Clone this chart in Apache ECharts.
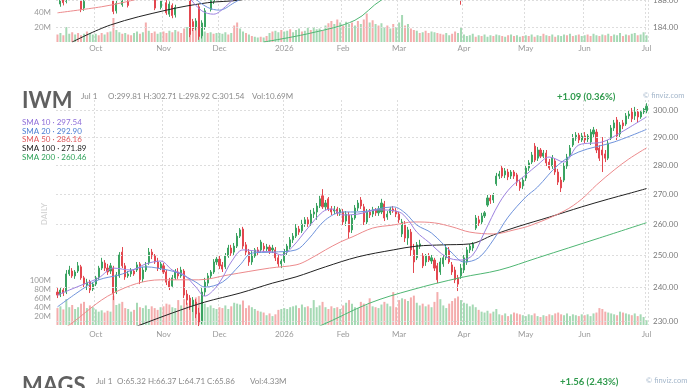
<!DOCTYPE html>
<html><head><meta charset="utf-8">
<script src="https://cdn.jsdelivr.net/npm/echarts@6/dist/echarts.min.js"></script>
<style>html,body{margin:0;padding:0;background:#fff}#c{width:690px;height:388px}</style>
</head><body><div id="c"></div>
<script>
// ---------- categories: trading days 2025-09-12 .. 2026-07-01 ----------
const holidays = ['2025-11-27','2025-12-25','2026-01-01','2026-01-19','2026-02-16','2026-04-03','2026-05-25','2026-06-19'];
const dates = [];
(function(){ let t = Date.UTC(2025,8,12); const end = Date.UTC(2026,6,1);
  while (t <= end) { const d = new Date(t); const wd = d.getUTCDay(); const s = d.toISOString().slice(0,10);
    if (wd !== 0 && wd !== 6 && holidays.indexOf(s) < 0) dates.push(s); t += 86400000; } })();
const monthNames = ['Jan','Feb','Mar','Apr','May','Jun','Jul','Aug','Sep','Oct','Nov','Dec'];

// ---------- IWM daily OHLC ----------
const opens = [238.7,237.8,239.3,238.7,244.2,245.1,243.6,245.1,246.4,243.0,240.8,241.7,239.6,
241.1,243.0,246.0,247.6,246.0,245.1,246.0,238.7,243.6,251.0,246.7,243.6,244.2,245.1,245.4,247.3,242.7,245.4,247.6,251.0,249.8,247.9,246.0,
246.7,244.8,242.0,240.5,243.0,244.8,243.6,245.1,238.1,236.9,234.9,235.7,232.5,230.2,238.7,241.4,243.6,244.8,247.9,
248.8,247.0,246.4,249.8,252.3,251.0,252.9,256.1,258.4,253.3,251.0,247.9,249.8,251.7,251.7,252.9,252.0,252.6,251.7,251.7,249.2,247.3,
248.2,251.0,252.6,254.9,256.1,258.4,257.8,260.0,261.4,260.4,263.3,264.0,266.0,269.4,265.7,268.4,265.0,264.3,265.0,263.7,
264.0,261.0,263.0,258.1,262.0,265.3,268.0,265.7,260.7,264.0,263.3,264.7,263.7,264.0,266.7,262.3,263.7,265.0,264.3,
263.3,256.8,260.0,255.5,257.4,251.7,249.2,252.9,249.8,247.9,249.8,248.2,248.5,246.7,244.8,247.3,249.2,251.7,247.0,245.4,243.0,243.6,
245.4,247.9,251.7,252.3,258.7,261.4,260.7,262.7,266.3,268.7,268.0,273.5,276.2,279.0,276.6,277.6,276.2,277.6,276.6,274.1,272.8,
275.5,279.0,281.1,286.8,282.5,285.4,283.2,284.3,281.1,279.7,281.5,277.6,274.8,274.8,279.7,283.6,287.2,289.7,290.8,289.0,
290.5,289.4,288.3,291.2,291.9,286.1,285.4,284.0,282.5,289.7,293.4,296.4,291.2,295.3,294.9,297.9,299.4,297.9,299.4,297.5,299.4,
299.81];
const closes = [237.8,239.3,238.4,244.2,245.4,243.6,244.8,246.7,243.0,241.1,241.7,239.3,241.1,
243.0,246.0,247.9,246.0,244.8,246.7,238.1,243.9,250.1,246.7,243.3,244.2,245.4,244.2,247.0,242.4,245.4,246.7,251.0,249.8,247.9,246.0,247.3,
244.8,241.7,240.2,243.0,244.8,243.6,245.4,237.8,236.3,234.6,236.3,232.2,229.9,238.7,241.7,243.6,244.8,247.9,248.8,
246.7,245.7,249.8,252.3,250.7,252.9,256.1,258.1,252.9,251.0,247.9,250.1,251.7,251.0,254.2,252.0,252.6,251.3,252.3,249.2,247.3,248.2,
251.0,252.9,254.9,256.1,258.7,257.4,260.0,261.4,260.0,263.3,264.0,266.0,268.4,265.7,267.0,265.0,264.0,265.0,263.7,264.7,
260.7,263.3,257.4,262.0,265.3,267.0,266.0,260.7,264.0,263.0,264.7,263.7,265.0,267.0,262.0,263.3,265.0,264.3,263.3,
261.4,260.7,255.5,258.1,251.7,247.9,253.3,253.6,246.7,249.8,248.5,249.2,246.0,242.4,247.9,249.2,252.3,247.9,244.8,242.4,241.1,246.0,
249.2,251.7,252.9,253.6,262.0,260.4,262.7,263.7,268.7,267.7,269.7,276.2,276.9,276.2,278.0,275.9,277.6,276.2,274.1,272.1,274.8,
279.0,280.8,283.6,281.8,285.4,283.2,284.3,280.8,279.0,282.5,277.6,274.1,272.1,279.7,282.9,286.1,289.7,290.8,289.0,290.5,
289.0,290.5,291.9,292.7,285.4,282.5,283.6,282.5,287.9,293.4,295.3,290.5,294.5,294.2,297.9,298.6,296.8,299.4,297.5,299.4,300.45,
301.54];
const lows = [236.9,237.2,237.5,238.1,243.6,243.0,242.7,244.5,242.4,240.2,239.3,238.4,239.0,
240.5,242.4,245.4,245.1,243.9,244.2,236.3,238.1,243.0,246.0,242.4,243.0,243.3,243.6,244.8,241.1,241.7,244.8,247.0,248.8,247.3,245.1,245.4,
244.2,240.8,239.3,239.9,242.4,242.7,243.0,236.9,234.9,233.4,232.8,231.0,228.7,229.3,237.5,240.5,242.7,244.2,247.0,
245.7,244.8,245.7,249.2,249.8,250.1,252.3,255.5,252.0,249.8,246.7,247.0,249.2,250.1,251.0,251.0,251.3,250.4,250.7,248.2,246.4,246.0,
247.6,250.1,252.0,253.9,255.5,256.5,257.1,259.1,259.1,259.4,262.0,261.4,265.3,265.0,264.7,264.3,263.0,263.3,262.7,262.7,
259.7,259.4,255.5,257.1,261.4,264.3,265.0,259.7,260.0,262.0,262.3,262.7,262.7,263.3,261.0,261.4,263.0,263.7,262.3,
260.4,255.8,254.2,253.3,249.8,244.5,248.5,252.0,246.0,246.7,247.9,247.3,245.1,241.4,243.9,246.4,248.5,247.3,243.9,241.4,239.0,242.7,
244.5,247.0,250.7,251.3,258.1,259.4,259.7,262.0,265.7,266.7,267.0,272.8,275.2,275.5,275.5,274.8,275.2,275.2,272.8,271.1,271.7,
274.5,278.0,280.4,281.1,281.5,282.5,282.5,279.7,278.3,278.7,276.6,273.1,270.7,274.1,278.7,282.9,286.5,288.7,287.9,288.3,
287.9,288.3,287.2,290.1,284.3,281.5,277.6,281.1,281.8,289.0,292.3,289.0,290.1,293.0,294.2,296.8,295.6,296.4,295.6,296.8,298.6,
298.92];
const highs = [239.9,240.2,239.9,245.4,246.7,246.0,245.4,247.9,247.0,243.6,242.7,242.4,241.7,
243.6,246.7,249.2,248.5,247.3,247.6,246.7,244.8,251.0,252.6,247.6,245.1,246.0,245.7,247.9,247.9,246.4,247.9,252.3,252.0,250.4,249.2,247.9,
247.6,245.4,243.0,243.9,245.7,246.0,246.4,245.7,239.3,237.8,237.2,236.6,234.0,239.9,243.0,244.5,245.4,248.8,249.5,
249.8,247.9,250.7,253.3,253.3,253.9,257.1,258.7,259.1,254.2,252.0,251.3,252.3,252.6,254.9,253.9,253.6,253.3,253.3,252.6,250.1,248.8,
252.0,253.6,255.8,257.1,260.0,259.4,261.4,262.3,262.3,264.7,265.3,267.0,269.4,271.7,268.0,269.0,266.0,266.0,265.7,265.3,
265.0,264.3,264.0,263.0,266.3,268.0,269.0,266.7,265.0,265.0,265.7,265.3,266.0,268.4,267.7,264.3,265.7,266.0,265.3,
264.0,261.7,261.0,259.1,258.4,253.6,254.2,254.9,250.7,250.4,250.7,250.1,249.2,247.6,249.2,250.1,253.3,252.6,247.9,246.4,243.9,247.3,
250.1,252.6,253.6,254.2,263.0,262.7,263.7,264.3,269.7,269.7,270.4,277.3,278.0,279.7,279.0,278.7,278.3,278.3,277.3,274.8,275.9,
280.1,281.8,284.7,287.9,286.5,286.1,285.4,285.4,282.2,283.6,282.5,278.7,275.9,280.8,284.0,287.2,291.2,291.9,291.6,291.6,
291.9,291.2,293.0,293.8,293.0,287.2,290.1,285.4,289.0,294.5,296.4,297.5,295.6,296.4,299.0,299.8,300.9,301.3,300.5,300.1,300.9,
302.71];
// volume, millions
const volumes = [38,42,35,58,40,45,36,40,48,52,38,44,40,
35,30,33,28,32,30,66,45,48,52,38,36,30,34,50,40,38,44,36,42,38,34,40,
42,48,46,40,38,56,44,58,50,54,48,62,65,58,48,40,44,38,36,
40,38,44,36,42,50,48,46,55,38,44,40,36,32,30,28,22,26,20,24,34,36,
38,36,40,42,44,38,46,40,42,38,56,40,44,52,40,36,42,38,40,36,
44,50,56,48,40,38,52,48,44,60,42,40,38,46,52,48,42,74,40,
56,60,58,54,62,66,50,44,48,42,46,40,52,74,58,44,38,48,54,60,64,56,
50,48,42,46,40,34,30,28,32,26,30,36,24,22,26,20,24,28,26,24,22,
20,24,22,26,20,18,22,20,24,22,26,28,24,22,26,20,24,22,20,24,
22,24,20,26,28,38,36,30,28,26,24,22,30,28,26,24,22,26,20,24,18,
10.69];
// moving averages: [day index, value]
const sma10 = [[0,237.8],[4,239.3],[9,241.1],[14,243.0],[19,246.0],[25,245.4],[30,247.3],[35,248.2],[39,245.4],[43,243.9],[47,240.2],[50,237.5],[53,239.3],[56,243.0],[59,247.9],[63,251.7],[68,251.3],[73,251.0],[76,250.1],[80,252.9],[85,258.7],[90,264.0],[93,265.0],[97,263.0],[102,263.3],[109,264.7],[116,264.0],[119,261.4],[122,257.4],[126,254.2],[132,249.5],[137,248.5],[141,250.1],[145,257.4],[150,267.0],[154,272.4],[159,276.6],[163,280.1],[167,282.9],[172,281.1],[177,287.2],[185,288.3],[191,291.6],[200,297.54]];
const sma20 = [[0,234.3],[9,239.9],[14,242.4],[21,243.9],[30,246.4],[34,246.0],[41,244.5],[47,241.7],[50,240.2],[56,241.7],[62,247.0],[66,250.7],[73,251.0],[81,251.7],[85,254.9],[91,261.4],[97,264.0],[102,264.0],[114,265.7],[118,263.7],[122,259.7],[127,257.1],[134,250.7],[138,247.9],[143,249.2],[148,254.9],[153,262.3],[159,269.0],[163,272.4],[170,280.1],[177,284.7],[189,288.3],[200,292.90]];
const sma50 = [[0,226.8],[4,229.0],[19,238.4],[35,242.4],[48,242.4],[58,243.9],[72,246.0],[81,247.0],[85,248.5],[91,251.7],[96,254.2],[100,255.8],[107,258.7],[114,259.7],[121,260.7],[128,260.4],[134,259.1],[140,257.4],[148,256.8],[155,258.1],[161,259.7],[172,264.3],[178,268.3],[183,273.1],[189,278.3],[194,282.2],[200,286.16]];
const sma100 = [[20,226.5],[28,229.0],[39,232.5],[50,235.7],[62,238.4],[73,241.4],[81,243.3],[91,246.4],[102,249.5],[114,251.7],[122,252.9],[131,253.3],[140,253.6],[148,256.5],[156,259.1],[167,262.3],[178,265.7],[187,268.3],[194,270.2],[200,271.89]];
const sma200 = [[85,227.8],[89,228.7],[106,235.4],[120,239.3],[137,243.1],[150,245.4],[163,249.2],[184,255.5],[200,260.46]];
const priceTicks = [230,240,250,260,270,280,290,300];
const lastClose = 301.54;
const smaLegend = [['SMA 10','297.54','#8f6fd9'],['SMA 20','292.90','#4d7fd4'],['SMA 50','286.16','#e0585c'],['SMA 100','271.89','#222222'],['SMA 200','260.46','#2fa35a']];

// ---------- upper chart (cropped, only its bottom visible) ----------
const topVolumes = [10,12,9,20,11,13,10,12,9,11,14,12,10,
11,9,12,10,13,14,32,16,13,11,12,10,9,12,14,11,13,26,15,12,14,11,13,
14,12,15,13,16,14,12,18,20,22,16,24,26,18,14,12,13,11,12,
12,11,13,10,12,22,26,18,14,12,10,8,7,6,7,6,8,12,14,15,13,16,
14,15,17,13,16,18,14,15,19,16,20,17,18,15,22,25,28,24,30,26,
22,27,24,26,22,28,24,30,38,26,29,24,22,25,20,22,18,24,20,
26,36,22,24,18,16,15,12,13,15,12,14,13,12,11,10,12,9,11,14,12,20,
10,8,9,11,7,9,8,10,7,9,8,10,9,8,7,9,10,8,9,7,8,
9,8,10,7,9,8,11,9,8,10,7,9,8,10,9,11,8,9,10,8,
9,10,8,11,9,8,10,9,11,8,10,9,12,8,10,9,11,12,9,10,13,
9];
const topVolDir = 'rgrggrgrrgrgg' + 'grrgrgrggrgrrggrgrgrrgg' + 'rrgrgrrrgrrrgggrgrg' + 'gggrgrrggrgrggrgrgrggr' +
  'ggrgggrggrgggrgrrgrg' + 'rggrgrgrrgrgrggrgrg' + 'ggrgrrgrgrrggrrrggrrgg' + 'ggggrgrgggrggrgrgrggr' +
  'grgrggrgrgrgggrgrgrg' + 'grrggrgrgrgggrgrggrgg' + 'g';
const topCandles = [[1,187.4,188.3,187.0,188.8],[2,188.2,187.6,187.2,188.9],[3,187.8,188.6,187.5,189.0],
[8,188.6,186.6,186.2,189.0],[9,186.8,187.8,186.4,188.4],[19,188.5,186.3,185.9,189.0],[20,186.4,187.5,186.0,188.0],
[22,187.3,188.4,187.0,188.9],[24,187.9,187.2,186.9,188.5],[33,188.4,186.8,186.5,188.8],[35,186.9,187.9,186.6,188.4],
[37,187.6,186.1,185.8,188.0],[38,185.9,187.4,185.5,187.8],[39,187.2,185.7,185.3,187.5],[40,185.8,186.9,185.4,187.3],
[45,188.2,182.9,182.5,188.6],[46,184.8,183.7,183.4,185.2],[47,183.9,184.9,183.5,185.3],[48,187.0,182.6,182.1,187.4],
[49,182.7,184.6,182.3,185.0],[50,184.0,186.4,183.6,186.8],[52,186.6,187.9,186.3,188.4],[53,187.8,188.8,187.4,189.2],
[137,188.6,188.1,187.3,189.0]];
const topSma10 = [[42,189.0],[44,188.6],[49,186.4],[53,185.9],[57,187.0],[61,188.6],[64,189.4]];
const topSma20 = [[43,189.2],[46,188.4],[51,186.9],[55,186.5],[60,187.6],[64,188.6],[67,189.3]];
const topSma50 = [[0,186.1],[15,187.0],[23,187.7],[35,189.0]];
const topSma100 = [[5,181.78],[18,184.3],[37,186.5],[51,187.6],[62,188.0],[75,189.2]];
const topSma200 = [[70,181.78],[86,183.1],[101,185.0],[110,188.0],[120,189.8]];
const topTicks = [184,188];

// ---------- chart ----------
const FONT = 'Lato, "Open Sans", sans-serif';
const UP = '#3aa361', DOWN = '#e3474f';
function isMonthStart(i){ return i > 0 && dates[i].slice(5,7) !== dates[i-1].slice(5,7); }
function monthLabel(v){ const m = +v.slice(5,7); return m === 1 ? v.slice(0,4) : monthNames[m-1]; }

const candleData = dates.map((d,i) => [opens[i], closes[i], lows[i], highs[i]]);
const volData = volumes.map((v,i) => ({value: v, itemStyle: {color: closes[i] >= opens[i] ? '#a5d9b4' : '#f4adad'}}));
const topVolData = topVolumes.map((v,i) => ({value: v, itemStyle: {color: topVolDir[i] === 'g' ? '#a5d9b4' : '#f4adad'}}));

function gridLines(ticks, box) {
  const d = ticks.map(v => ({yAxis: v}));
  if (box) d.push({yAxis: box, lineStyle: {opacity: 0},
    label: {color: '#111', fontWeight: 'bold', backgroundColor: '#f3e24a', borderColor: '#444', borderWidth: 0.6, padding: [2,2,1,2], distance: 3}});
  return {silent: true, symbol: ['none','none'], animation: false,
    lineStyle: {color: '#dddddd', type: [2,2], width: 1},
    label: {show: true, position: 'end', distance: 5, color: '#7a7a7a', fontSize: 8, fontFamily: FONT,
      formatter: p => Number(p.value).toFixed(2)},
    data: d};
}
function smaSeries(data, color, xi, yi) {
  return {type: 'line', xAxisIndex: xi, yAxisIndex: yi, data: data, symbol: 'none', smooth: 0.35,
    lineStyle: {color: color, width: 1}, silent: true, z: 5};
}
const candleStyle = {color: UP, color0: DOWN, borderColor: UP, borderColor0: DOWN, borderWidth: 1};

const option = {
  animation: false,
  backgroundColor: '#ffffff',
  textStyle: {fontFamily: FONT},
  grid: [
    {left: 56, width: 592, top: 100, height: 225},
    {left: 56, width: 592, top: 275, height: 50},
    {left: 56, width: 592, top: 0, height: 42},
    {left: 56, width: 592, top: 12, height: 30}
  ],
  xAxis: [0,1,2,3].map(k => ({
    type: 'category', gridIndex: k, data: dates, boundaryGap: true,
    axisLine: {show: false}, axisTick: {show: false},
    axisLabel: (k === 1 || k === 3) ? {show: true, interval: i => isMonthStart(i), formatter: v => monthLabel(v),
      color: '#9a9a9a', fontSize: 8, margin: k === 1 ? 5 : 2} : {show: false},
    splitLine: (k === 0 || k === 2) ? {show: true, interval: i => isMonthStart(i),
      lineStyle: {color: '#dddddd', type: [2,2], width: 1}} : {show: false}
  })),
  yAxis: [
    {type: 'log', logBase: 10, gridIndex: 0, min: 229.01, max: 303.93, show: false},
    {type: 'value', gridIndex: 1, min: 0, max: 112.36, interval: 20, position: 'left',
      axisLine: {show: false}, axisTick: {show: false}, splitLine: {show: false},
      axisLabel: {formatter: v => v + 'M', color: '#9a9a9a', fontSize: 8, margin: 5, showMinLabel: false, showMaxLabel: false}},
    {type: 'value', gridIndex: 2, min: 181.78, max: 188.0, show: false},
    {type: 'value', gridIndex: 3, min: 0, max: 40, interval: 20, position: 'left',
      axisLine: {show: false}, axisTick: {show: false}, splitLine: {show: false},
      axisLabel: {formatter: v => v + 'M', color: '#9a9a9a', fontSize: 8, margin: 5, showMinLabel: false}}
  ],
  series: [
    {type: 'bar', xAxisIndex: 1, yAxisIndex: 1, data: volData, barWidth: 2, silent: true, z: 1},
    {type: 'candlestick', xAxisIndex: 0, yAxisIndex: 0, data: candleData, barWidth: 1.6, itemStyle: candleStyle,
      silent: true, z: 3, markLine: gridLines(priceTicks, lastClose)},
    smaSeries(sma200, '#4fb673', 0, 0),
    smaSeries(sma100, '#222222', 0, 0),
    smaSeries(sma50, '#ec8a8c', 0, 0),
    smaSeries(sma20, '#6f93dc', 0, 0),
    smaSeries(sma10, '#9d82e0', 0, 0),
    {type: 'bar', xAxisIndex: 3, yAxisIndex: 3, data: topVolData, barWidth: 2, silent: true, z: 1},
    {type: 'candlestick', xAxisIndex: 2, yAxisIndex: 2, data: topCandles, encode: {x: 0, y: [1,2,3,4]},
      barWidth: 1.6, itemStyle: candleStyle, silent: true, z: 3, clip: true, markLine: gridLines(topTicks)},
    smaSeries(topSma200, '#4fb673', 2, 2),
    smaSeries(topSma100, '#222222', 2, 2),
    smaSeries(topSma50, '#ec8a8c', 2, 2),
    smaSeries(topSma20, '#6f93dc', 2, 2),
    smaSeries(topSma10, '#9d82e0', 2, 2)
  ],
  graphic: []
};

function txt(x, y, text, font, fill, extra) {
  return Object.assign({type: 'text', x: x, y: y, silent: true, z: 20,
    style: {text: text, font: font, fill: fill, align: 'left', verticalAlign: 'middle'}}, extra || {});
}
const g = option.graphic;
g.push(txt(22, 101, 'IWM', 'bold 22px ' + FONT, '#606060'));
g.push(txt(81, 96, 'Jul 1', '8px ' + FONT, '#8a8a8a'));
g.push(txt(108, 96, 'O:299.81 H:302.71 L:298.92 C:301.54', '8px ' + FONT, '#8a8a8a'));
g.push(txt(252, 96, 'Vol:10.69M', '8px ' + FONT, '#8a8a8a'));
g.push(txt(557, 97, '+1.09 (0.36%)', 'bold 9.5px ' + FONT, '#2f9a4c'));
g.push(txt(643, 96, '© finviz.com', '7.5px ' + FONT, '#a3b6ca'));
smaLegend.forEach((s, k) => {
  g.push(txt(22, 122.3 + k * 8.7, s[0] + ' · ' + s[1], '8px ' + FONT, s[2]));
});
g.push({type: 'text', x: 44, y: 214, rotation: Math.PI / 2, silent: true, z: 20,
  style: {text: 'DAILY', font: 'bold 8px ' + FONT, fill: '#d6d6d6', align: 'center', verticalAlign: 'middle'}});
g.push(txt(22, 386, 'MAGS', 'bold 22px ' + FONT, '#606060'));
g.push(txt(96, 381, 'Jul 1', '8px ' + FONT, '#8a8a8a'));
g.push(txt(117, 381, 'O:65.32 H:66.37 L:64.71 C:65.86', '8px ' + FONT, '#8a8a8a'));
g.push(txt(250, 381, 'Vol:4.33M', '8px ' + FONT, '#8a8a8a'));
g.push(txt(560, 382, '+1.56 (2.43%)', 'bold 9.5px ' + FONT, '#2f9a4c'));
g.push(txt(646, 381, '© finviz.com', '7.5px ' + FONT, '#a3b6ca'));

const chart = echarts.init(document.getElementById('c'));
chart.setOption(option);
</script>
</body></html>
